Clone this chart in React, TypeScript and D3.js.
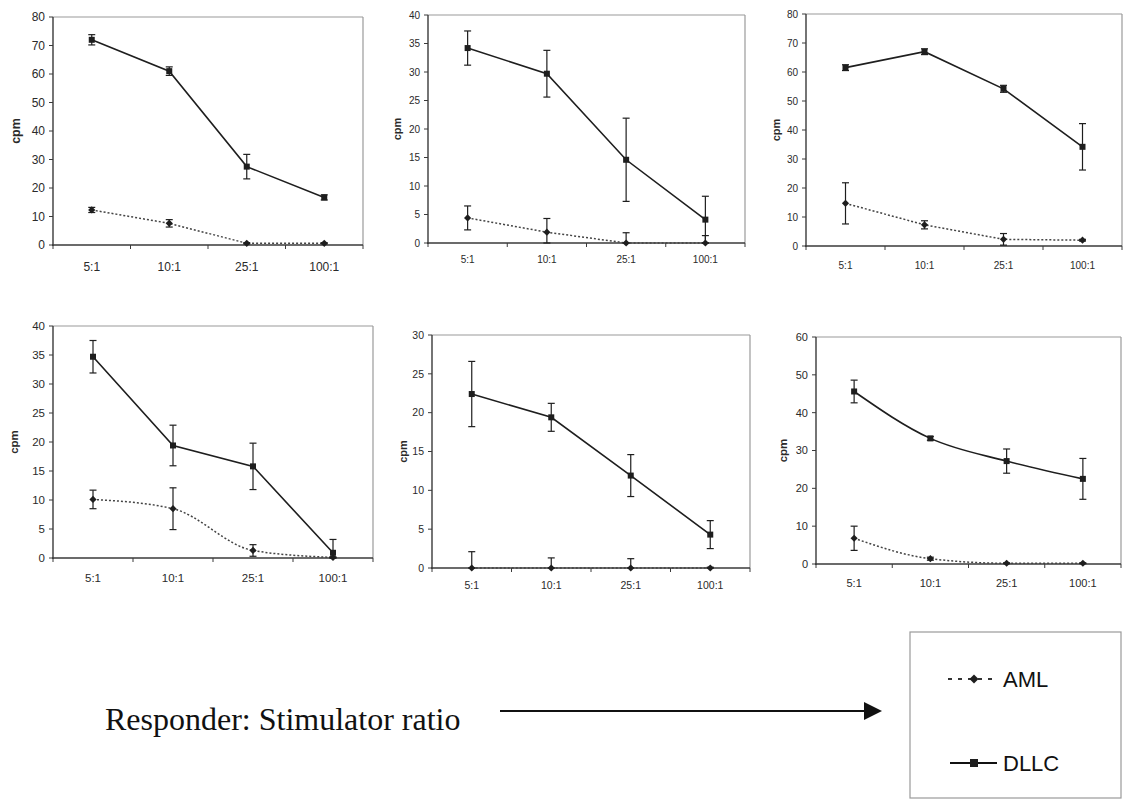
import React from "react";
import * as d3 from "d3";

// ---------- data ----------
const categories = ["5:1", "10:1", "25:1", "100:1"];

const dllcMeans = [
  [72, 61, 27.5, 16.7],
  [34.2, 29.7, 14.6, 4.1],
  [61.5, 67, 54.2, 34.2],
  [34.7, 19.4, 15.8, 0.9],
  [22.4, 19.4, 11.9, 4.3],
  [45.6, 33.2, 27.2, 22.5],
];
const dllcErrors = [
  [1.8, 1.5, 4.3, 0.9],
  [3.0, 4.1, 7.3, 4.1],
  [1.0, 1.0, 1.2, 8.0],
  [2.8, 3.5, 4.0, 2.3],
  [4.2, 1.8, 2.7, 1.8],
  [3.0, 0.5, 3.2, 5.4],
];
const amlMeans = [
  [12.3, 7.6, 0.6, 0.6],
  [4.4, 1.9, 0, 0],
  [14.7, 7.3, 2.3, 2.0],
  [10.1, 8.5, 1.3, 0.1],
  [0, 0, 0, 0],
  [6.8, 1.4, 0.2, 0.2],
];
const amlErrors = [
  [0.9, 1.3, 0.2, 0.2],
  [2.1, 2.4, 1.8, 1.3],
  [7.1, 1.4, 2.0, 0.3],
  [1.6, 3.6, 1.0, 0.1],
  [2.1, 1.3, 1.2, 0.1],
  [3.2, 0.4, 0.1, 0.1],
];
const yMaxes = [80, 40, 80, 40, 30, 60];
const yTickSteps = [10, 5, 10, 5, 5, 10];
const smoothDllc = [false, false, false, false, false, true];
const smoothAml = [false, false, false, true, false, true];

const seriesNames = ["AML", "DLLC"];
const axisTitle = "cpm";
const footerText = "Responder: Stimulator ratio";

// ---------- layout ----------
const panelBoxes = [
  { x0: 53, x1: 363, y0: 17, y1: 245, font: 12, labelDy: 22, titleX: 16, titleFont: 12.5 },
  { x0: 428, x1: 745, y0: 15, y1: 243, font: 10, labelDy: 16, titleX: 397, titleFont: 11 },
  { x0: 806, x1: 1122, y0: 14, y1: 246, font: 10, labelDy: 19, titleX: 776, titleFont: 11 },
  { x0: 53, x1: 373, y0: 326, y1: 558, font: 11.5, labelDy: 20, titleX: 14, titleFont: 11.5 },
  { x0: 432, x1: 750, y0: 335, y1: 568, font: 10.5, labelDy: 17, titleX: 403, titleFont: 11 },
  { x0: 816, x1: 1121, y0: 337, y1: 564, font: 11, labelDy: 19, titleX: 783, titleFont: 11.5 },
];

const FONT = "Liberation Sans, Arial, sans-serif";
const AXIS = "#3a3a3a";
const FRAME = "#9a9a9a";
const TEXT = "#2a2a2a";
const LINE = "#1e1e1e";

function Diamond({ x, y, r = 3.6 }: { x: number; y: number; r?: number }) {
  return <path d={`M${x},${y - r}L${x + r},${y}L${x},${y + r}L${x - r},${y}Z`} fill={LINE} />;
}
function Square({ x, y, s = 6 }: { x: number; y: number; s?: number }) {
  return <rect x={x - s / 2} y={y - s / 2} width={s} height={s} fill={LINE} />;
}

function Panel({ i }: { i: number }) {
  const b = panelBoxes[i];
  const x = d3.scaleBand<string>().domain(categories).range([b.x0, b.x1]).padding(0);
  const y = d3.scaleLinear().domain([0, yMaxes[i]]).range([b.y1, b.y0]);
  const ticks = d3.range(0, yMaxes[i] + 0.001, yTickSteps[i]);
  const cx = (c: string) => (x(c) as number) + x.bandwidth() / 2;

  const mk = (vals: number[], smooth: boolean) =>
    d3
      .line<number>()
      .x((_, k) => cx(categories[k]))
      .y((v) => y(v))
      .curve(smooth ? d3.curveMonotoneX : d3.curveLinear)(vals) as string;

  const errBars = (means: number[], errs: number[], key: string) =>
    means.map((m, k) => {
      const px = cx(categories[k]);
      const top = y(Math.min(yMaxes[i], m + errs[k]));
      const bot = y(Math.max(0, m - errs[k]));
      const cap = 3.5;
      return (
        <g key={key + k} stroke={LINE} strokeWidth={1.2}>
          <line x1={px} x2={px} y1={top} y2={bot} />
          <line x1={px - cap} x2={px + cap} y1={top} y2={top} />
          <line x1={px - cap} x2={px + cap} y1={bot} y2={bot} />
        </g>
      );
    });

  const boundaries = [b.x0, ...categories.map((c) => (x(c) as number) + x.bandwidth())];
  const midY = (b.y0 + b.y1) / 2;

  return (
    <g>
      {/* frame top/right */}
      <line x1={b.x0} x2={b.x1} y1={b.y0} y2={b.y0} stroke={FRAME} strokeWidth={1.2} />
      <line x1={b.x1} x2={b.x1} y1={b.y0} y2={b.y1} stroke={FRAME} strokeWidth={1.2} />
      {/* axes */}
      <line x1={b.x0} x2={b.x0} y1={b.y0} y2={b.y1 + 1} stroke={AXIS} strokeWidth={1.4} />
      <line x1={b.x0 - 1} x2={b.x1} y1={b.y1} y2={b.y1} stroke={AXIS} strokeWidth={1.4} />
      {ticks.map((t) => (
        <g key={"yt" + t}>
          <line x1={b.x0 - 4} x2={b.x0} y1={y(t)} y2={y(t)} stroke={AXIS} strokeWidth={1} />
          <text
            x={b.x0 - 8}
            y={y(t)}
            dy="0.35em"
            textAnchor="end"
            fontFamily={FONT}
            fontSize={b.font}
            fill={TEXT}
          >
            {t}
          </text>
        </g>
      ))}
      {boundaries.map((bx, k) => (
        <line key={"xt" + k} x1={bx} x2={bx} y1={b.y1} y2={b.y1 + 4} stroke={AXIS} strokeWidth={1} />
      ))}
      {categories.map((c) => (
        <text
          key={"xl" + c}
          x={cx(c)}
          y={b.y1 + b.labelDy}
          dy="0.35em"
          textAnchor="middle"
          fontFamily={FONT}
          fontSize={b.font}
          fill={TEXT}
        >
          {c}
        </text>
      ))}
      <text
        transform={`translate(${b.titleX},${midY}) rotate(-90)`}
        textAnchor="middle"
        dy="0.35em"
        fontFamily={FONT}
        fontWeight="bold"
        fontSize={b.titleFont}
        fill={TEXT}
      >
        {axisTitle}
      </text>
      {/* AML */}
      <path d={mk(amlMeans[i], smoothAml[i])} fill="none" stroke="#444" strokeWidth={1.5} strokeDasharray="2,2" />
      {errBars(amlMeans[i], amlErrors[i], "ae")}
      {amlMeans[i].map((m, k) => (
        <Diamond key={"ad" + k} x={cx(categories[k])} y={y(m)} />
      ))}
      {/* DLLC */}
      <path d={mk(dllcMeans[i], smoothDllc[i])} fill="none" stroke={LINE} strokeWidth={1.6} />
      {errBars(dllcMeans[i], dllcErrors[i], "de")}
      {dllcMeans[i].map((m, k) => (
        <Square key={"ds" + k} x={cx(categories[k])} y={y(m)} />
      ))}
    </g>
  );
}

export default function App() {
  return (
    <svg
      width={1125}
      height={800}
      style={{ position: "absolute", left: 0, top: 0, background: "#fff" }}
    >
      <rect x={0} y={0} width={1125} height={800} fill="#fff" />
      {panelBoxes.map((_, i) => (
        <Panel key={i} i={i} />
      ))}
      {/* footer */}
      <text x={105} y={730} fontFamily="Liberation Serif, Times New Roman, serif" fontSize={32} fill="#111">
        {footerText}
      </text>
      <line x1={500} x2={866} y1={711} y2={711} stroke="#111" strokeWidth={2.2} />
      <path d="M864,702 L882,711 L864,720 Z" fill="#111" />
      {/* legend */}
      <rect x={910} y={632} width={211} height={166} fill="#fff" stroke={FRAME} strokeWidth={1.2} />
      <line x1={948} x2={995} y1={679} y2={679} stroke="#333" strokeWidth={2} strokeDasharray="4,6" />
      <Diamond x={974} y={679} r={4.5} />
      <text x={1003} y={687} fontFamily={FONT} fontSize={22} fill="#111">
        {seriesNames[0]}
      </text>
      <line x1={950} x2={997} y1={763} y2={763} stroke="#111" strokeWidth={1.8} />
      <Square x={974} y={763} s={8} />
      <text x={1003} y={771} fontFamily={FONT} fontSize={22} fill="#111">
        {seriesNames[1]}
      </text>
    </svg>
  );
}
